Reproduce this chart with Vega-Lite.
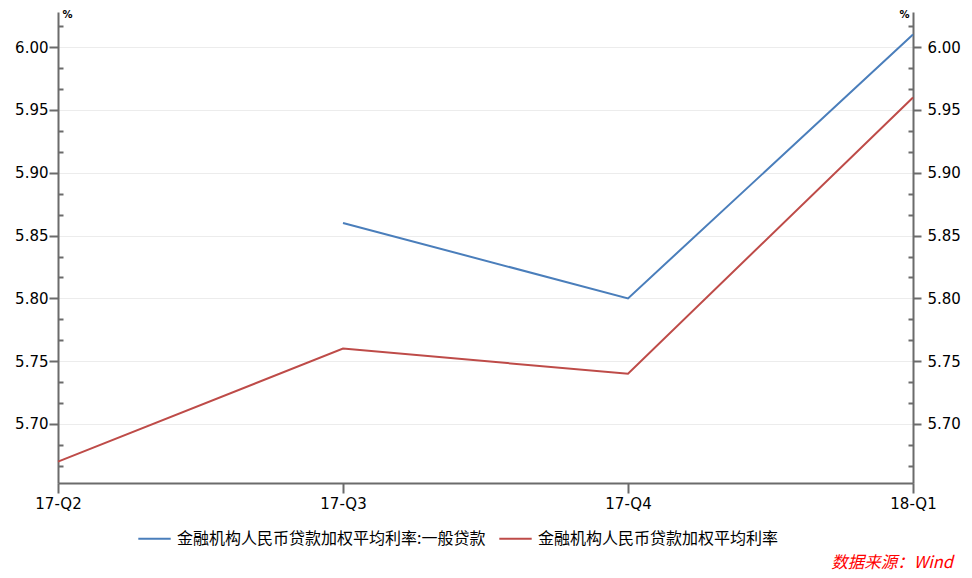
{
  "$schema": "https://vega.github.io/schema/vega-lite/v6.json",
  "width": 855,
  "height": 471,
  "autosize": {"type": "none"},
  "padding": {"left": 58, "top": 12, "right": 59, "bottom": 95},
  "background": "white",
  "config": {
    "view": {"stroke": null},
    "font": "DejaVu Sans"
  },
  "title": {
    "text": "数据来源：Wind",
    "orient": "bottom",
    "anchor": "end",
    "frame": "group",
    "dx": 40,
    "offset": 8,
    "color": "#ff0000",
    "font": "Noto Sans CJK SC",
    "fontStyle": "italic",
    "fontWeight": "normal",
    "fontSize": 16.5
  },
  "data": {
    "values": [
      {"q": "17-Q3", "s": "金融机构人民币贷款加权平均利率:一般贷款", "v": 5.86},
      {"q": "17-Q4", "s": "金融机构人民币贷款加权平均利率:一般贷款", "v": 5.80},
      {"q": "18-Q1", "s": "金融机构人民币贷款加权平均利率:一般贷款", "v": 6.01},
      {"q": "17-Q2", "s": "金融机构人民币贷款加权平均利率", "v": 5.67},
      {"q": "17-Q3", "s": "金融机构人民币贷款加权平均利率", "v": 5.76},
      {"q": "17-Q4", "s": "金融机构人民币贷款加权平均利率", "v": 5.74},
      {"q": "18-Q1", "s": "金融机构人民币贷款加权平均利率", "v": 5.96}
    ]
  },
  "encoding": {
    "x": {
      "field": "q", "type": "ordinal",
      "scale": {"type": "point", "padding": 0, "domain": ["17-Q2", "17-Q3", "17-Q4", "18-Q1"]},
      "axis": {
        "title": null, "labelAngle": 0, "grid": false,
        "domainColor": "#6b6b6b", "domainWidth": 2,
        "tickColor": "#6b6b6b", "tickWidth": 2, "tickSize": 10,
        "labelFontSize": 15, "labelColor": "#000", "labelPadding": 3,
        "labelFont": "DejaVu Sans"
      }
    },
    "color": {
      "field": "s", "type": "nominal",
      "scale": {"domain": ["金融机构人民币贷款加权平均利率:一般贷款", "金融机构人民币贷款加权平均利率"], "range": ["#4a7ebb", "#be4b48"]},
      "legend": {
        "title": null, "orient": "none", "direction": "horizontal",
        "legendX": 79, "legendY": 509, "labelLimit": 0,
        "symbolType": "stroke", "symbolSize": 1050, "symbolStrokeWidth": 2,
        "labelFont": "Noto Sans CJK SC", "labelFontSize": 16, "labelColor": "#000",
        "labelOffset": 5, "columnPadding": 9
      }
    }
  },
  "layer": [
    {
      "mark": {"type": "line", "strokeWidth": 2},
      "encoding": {
        "y": {
          "field": "v", "type": "quantitative",
          "scale": {"domain": [5.653, 6.028], "zero": false, "nice": false},
          "axis": {
            "orient": "left",
            "title": "%", "titleAngle": 0, "titleX": 4, "titleY": 2,
            "titleAlign": "left", "titleBaseline": "middle",
            "titleFontSize": 10, "titleFontWeight": "bold", "titleColor": "#000",
            "values": [5.7, 5.75, 5.8, 5.85, 5.9, 5.95, 6.0],
            "format": ".2f",
            "tickSize": 9,
            "grid": true, "gridColor": "#ececec", "gridWidth": 1,
            "domainColor": "#6b6b6b", "domainWidth": 2,
            "tickColor": "#6b6b6b", "tickWidth": 2,
            "labelFontSize": 15, "labelColor": "#000", "labelPadding": 1,
            "labelFont": "DejaVu Sans"
          }
        }
      }
    },
    {
      "mark": {"type": "line", "strokeWidth": 2, "opacity": 0},
      "encoding": {
        "y": {
          "field": "v", "type": "quantitative",
          "axis": {
            "orient": "right",
            "title": "%", "titleAngle": 0, "titleX": -4, "titleY": 2,
            "titleAlign": "right", "titleBaseline": "middle",
            "titleFontSize": 10, "titleFontWeight": "bold", "titleColor": "#000",
            "values": [5.7, 5.75, 5.8, 5.85, 5.9, 5.95, 6.0],
            "format": ".2f",
            "tickSize": 8,
            "grid": false,
            "domainColor": "#6b6b6b", "domainWidth": 2,
            "tickColor": "#6b6b6b", "tickWidth": 2,
            "labelFontSize": 15, "labelColor": "#000", "labelPadding": 6,
            "labelFont": "DejaVu Sans"
          }
        }
      }
    },
    {
      "mark": {"type": "line", "strokeWidth": 2, "opacity": 0},
      "encoding": {
        "y": {
          "field": "v", "type": "quantitative",
          "axis": {
            "orient": "left", "offset": -5,
            "title": null, "labels": false, "domain": false, "grid": false,
            "values": [5.666667, 5.683333, 5.716667, 5.733333, 5.766667, 5.783333, 5.816667, 5.833333, 5.866667, 5.883333, 5.916667, 5.933333, 5.966667, 5.983333, 6.016667],
            "tickSize": 5, "tickColor": "#6b6b6b", "tickWidth": 2
          }
        }
      }
    },
    {
      "mark": {"type": "line", "strokeWidth": 2, "opacity": 0},
      "encoding": {
        "y": {
          "field": "v", "type": "quantitative",
          "axis": {
            "orient": "right", "offset": -5,
            "title": null, "labels": false, "domain": false, "grid": false,
            "values": [5.666667, 5.683333, 5.716667, 5.733333, 5.766667, 5.783333, 5.816667, 5.833333, 5.866667, 5.883333, 5.916667, 5.933333, 5.966667, 5.983333, 6.016667],
            "tickSize": 5, "tickColor": "#6b6b6b", "tickWidth": 2
          }
        }
      }
    }
  ],
  "resolve": {"axis": {"y": "independent"}}
}
